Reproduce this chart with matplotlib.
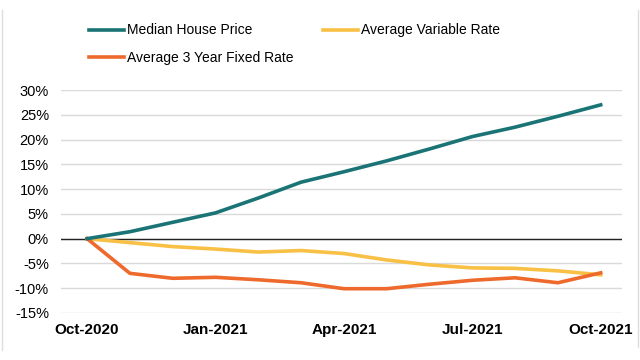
import matplotlib
matplotlib.use("Agg")
import matplotlib.pyplot as plt
from matplotlib.lines import Line2D

plt.rcParams['font.family'] = ['Liberation Sans', 'DejaVu Sans']

months = ["Oct-2020", "Nov-2020", "Dec-2020", "Jan-2021", "Feb-2021", "Mar-2021", "Apr-2021",
          "May-2021", "Jun-2021", "Jul-2021", "Aug-2021", "Sep-2021", "Oct-2021"]
median_house = [0, 1.4, 3.3, 5.2, 8.2, 11.4, 13.5, 15.7, 18.1, 20.6, 22.5, 24.7, 27.0]
avg_variable = [0, -0.8, -1.6, -2.1, -2.7, -2.4, -3.0, -4.3, -5.3, -5.9, -6.0, -6.5, -7.3]
avg_fixed3 = [0, -7.0, -8.0, -7.8, -8.3, -8.9, -10.1, -10.1, -9.2, -8.4, -7.9, -8.9, -6.9]
yticks = [-15, -10, -5, 0, 5, 10, 15, 20, 25, 30]
xtick_idx = [0, 3, 6, 9, 12]

fig = plt.figure(figsize=(6.4, 3.6), dpi=100)
ax = fig.add_axes([0.096, 0.1306, 0.876, 0.6194])
x = list(range(len(months)))
l1, = ax.plot(x, median_house, color='#1A7475', lw=2.6, label='Median House Price', zorder=4)
l2, = ax.plot(x, avg_variable, color='#F8C044', lw=2.6, label='Average Variable Rate', zorder=3)
l3, = ax.plot(x, avg_fixed3, color='#EE6A2C', lw=2.6, label='Average 3 Year Fixed Rate', zorder=3)

ax.set_xlim(-0.6, 12.5)
ax.set_ylim(-15, 30)
ax.set_yticks(yticks)
ax.set_yticklabels([f"{v}%" for v in yticks], fontsize=10.5)
ax.set_xticks(xtick_idx)
ax.set_xticklabels([months[i] for i in xtick_idx], fontsize=11, fontweight='bold')
ax.tick_params(length=0)
ax.tick_params(axis='y', pad=9)
ax.tick_params(axis='x', pad=7)
for s in ax.spines.values():
    s.set_visible(False)
ax.grid(axis='y', color='#D9D9D9', lw=1)
ax.axhline(0, color='#222222', lw=1, zorder=2)
ax.set_axisbelow(True)

fig.legend(handles=[l1, l3, l2], loc='upper left', bbox_to_anchor=(89 / 640, 0.935), ncol=2,
           frameon=False, fontsize=10, handlelength=2.5, handletextpad=0.25,
           columnspacing=2.1, labelspacing=0.95, borderpad=0, borderaxespad=0)

fig.add_artist(Line2D([2 / 640, 2 / 640], [1 - 10 / 360, 1 - 350 / 360],
                      transform=fig.transFigure, color='#DDDDDD', lw=1))
fig.add_artist(Line2D([637.5 / 640, 637.5 / 640], [1 - 10 / 360, 1 - 347 / 360],
                      transform=fig.transFigure, color='#DDDDDD', lw=1))
fig.savefig('out.png', dpi=100)
